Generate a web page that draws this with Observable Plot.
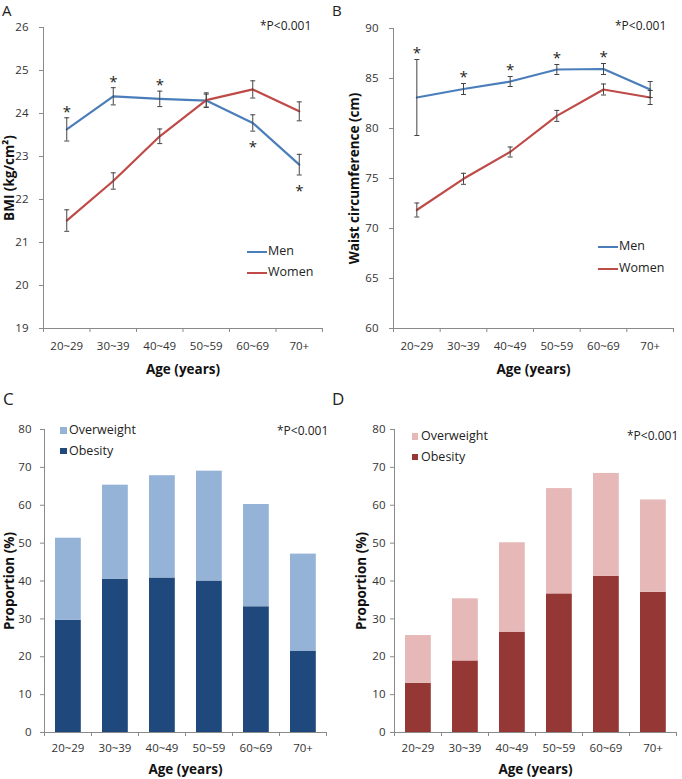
<!DOCTYPE html>
<html><head><meta charset="utf-8">
<script src="https://cdn.jsdelivr.net/npm/d3@7"></script>
<script src="https://cdn.jsdelivr.net/npm/@observablehq/plot@0.6"></script>
<style>
body{margin:0;background:#fff;font-family:"Open Sans",sans-serif;}
#fig{position:relative;width:682px;height:779px;overflow:hidden;background:#fff;}
.p{position:absolute;}
.t{position:absolute;white-space:nowrap;color:#222;line-height:1;transform:translateY(-50%);font-family:"Open Sans",sans-serif;}
.sw{position:absolute;}
g[aria-label="x-axis label"] text, g[aria-label="y-axis label"] text{font-weight:bold;font-size:13.5px;fill:#111;}
</style></head><body><div id="fig"></div><script>
// ---- data ----
const ageGroups = ["20~29","30~39","40~49","50~59","60~69","70+"];
const bmiMen = [23.63,24.40,24.34,24.30,23.78,22.81];
const bmiMenErr = [0.27,0.20,0.18,0.15,0.19,0.24];
const bmiWomen = [21.51,22.43,23.47,24.31,24.56,24.05];
const bmiWomenErr = [0.25,0.19,0.17,0.17,0.20,0.22];
const bmiStars = ["above","above","above",null,"below","below"];
const waistMen = [83.1,83.95,84.7,85.9,85.95,83.9];
const waistMenErr = [3.8,0.55,0.5,0.5,0.55,0.8];
const waistWomen = [71.85,74.97,77.65,81.26,83.9,83.1];
const waistWomenErr = [0.7,0.55,0.5,0.55,0.55,0.7];
const waistStars = ["above","above","above","above","above",null];
const menObesity = [29.6,40.5,40.8,40.0,33.2,21.5];
const menOverweight = [21.7,24.8,27.0,29.0,27.0,25.6];
const womenObesity = [13.0,18.9,26.5,36.6,41.2,37.0];
const womenOverweight = [12.6,16.4,23.6,27.8,27.2,24.4];
const bmiTicks = [19,20,21,22,23,24,25,26];
const waistTicks = [60,65,70,75,80,85,90];
const propTicks = [0,10,20,30,40,50,60,70,80];
const seriesNames = ["Men","Women"];
const barNames = ["Overweight","Obesity"];
const pText = "*P<0.001";

// ---- style ----
const BLUE = "#4A7EBB", RED = "#BE4B48";
const LBLUE = "#95B3D7", DBLUE = "#1F497D";
const LRED = "#E6B9B8", DRED = "#953735";
const AX = "#8a8a8a", ERR = "#444";
const fig = document.getElementById("fig");
const capSymbol = {draw(ctx){ctx.moveTo(-2.5,0);ctx.lineTo(2.5,0);}};
const idx = ageGroups.map((_, i) => i);
const mid = d => d.i + 0.5;

function xAxes(tickPadding, labelOffset) {
  return [
    Plot.axisX(d3.range(0, ageGroups.length + 1), {tickSize: 4, tickFormat: () => "", stroke: AX, label: null}),
    Plot.axisX(idx.map(i => i + 0.5), {tickSize: 0, tickPadding, tickFormat: v => ageGroups[Math.floor(v)],
      label: "Age (years)", labelAnchor: "center", labelOffset, labelArrow: "none"})
  ];
}
function yAxis(ticks, label, tickPadding, labelOffset) {
  return Plot.axisY(ticks, {tickSize: 4, stroke: AX, tickPadding, label, labelAnchor: "center", labelOffset, labelArrow: "none"});
}
function place(svg, left, top) {
  svg.classList.add("p"); svg.style.left = left + "px"; svg.style.top = top + "px"; fig.appendChild(svg);
}
function txt(x, y, s, size, extra) {
  const d = document.createElement("div"); d.className = "t"; d.textContent = s;
  d.style.left = x + "px"; d.style.top = y + "px"; d.style.fontSize = size + "px";
  if (extra) Object.assign(d.style, extra);
  fig.appendChild(d);
}
function swatch(x, y, w, h, color) {
  const d = document.createElement("div"); d.className = "sw";
  Object.assign(d.style, {left: x + "px", top: (y - h / 2) + "px", width: w + "px", height: h + "px", background: color});
  fig.appendChild(d);
}
const baseStyle = {fontFamily: "Open Sans", fontSize: "11.5px", color: "#333", background: "transparent", overflow: "visible"};

function linePanel({men, menErr, women, womenErr, stars, ticks, label, m, tickPad, labelOff}) {
  const rows = idx.map(i => ({i, men: men[i], menErr: menErr[i], women: women[i], womenErr: womenErr[i], star: stars[i]}));
  const ser = [["men", "menErr", BLUE], ["women", "womenErr", RED]];
  const marks = [
    Plot.ruleX([0], {stroke: AX}),
    Plot.ruleY([ticks[0]], {stroke: AX}),
    yAxis(ticks, label, tickPad, labelOff),
    ...xAxes(13, 45)
  ];
  for (const [k, e, c] of ser) {
    marks.push(Plot.lineY(rows, {x: mid, y: k, stroke: c, strokeWidth: 2.2}));
  }
  for (const [k, e] of ser) {
    marks.push(Plot.ruleX(rows, {x: mid, y1: d => d[k] - d[e], y2: d => d[k] + d[e], stroke: ERR, strokeWidth: 1}));
    marks.push(Plot.dot(rows, {x: mid, y: d => d[k] - d[e], symbol: capSymbol, stroke: ERR, fill: "none", strokeWidth: 1}));
    marks.push(Plot.dot(rows, {x: mid, y: d => d[k] + d[e], symbol: capSymbol, stroke: ERR, fill: "none", strokeWidth: 1}));
  }
  marks.push(Plot.text(rows.filter(d => d.star === "above"), {x: mid, y: d => d.men + d.menErr, text: () => "*", dy: -6, fontSize: 15, fill: "#222"}));
  marks.push(Plot.text(rows.filter(d => d.star === "below"), {x: mid, y: d => d.men - d.menErr, text: () => "*", dy: 16, fontSize: 15, fill: "#222"}));
  return Plot.plot({
    width: 341, height: 385, ...m,
    x: {domain: [0, ageGroups.length], axis: null},
    y: {domain: [ticks[0], ticks[ticks.length - 1]], axis: null},
    style: baseStyle, marks
  });
}

function barPanel({obesity, overweight, cLight, cDark, m, tickPad, labelOff}) {
  const rows = idx.map(i => ({i, ob: obesity[i], ov: overweight[i]}));
  return Plot.plot({
    width: 341, height: 394, ...m,
    x: {domain: [0, ageGroups.length], axis: null},
    y: {domain: [0, 80], axis: null},
    style: baseStyle,
    marks: [
      Plot.rect(rows, {x1: d => d.i, x2: d => d.i + 1, y1: () => 0, y2: "ob", fill: cDark, insetLeft: 11, insetRight: 10.2}),
      Plot.rect(rows, {x1: d => d.i, x2: d => d.i + 1, y1: "ob", y2: d => d.ob + d.ov, fill: cLight, insetLeft: 11, insetRight: 10.2}),
      Plot.ruleX([0], {stroke: AX}),
      Plot.ruleY([0], {stroke: AX}),
      yAxis(propTicks, "Proportion (%)", tickPad, labelOff),
      ...xAxes(11, 41)
    ]
  });
}

place(linePanel({men: bmiMen, menErr: bmiMenErr, women: bmiWomen, womenErr: bmiWomenErr, stars: bmiStars,
  ticks: bmiTicks, label: "BMI (kg/cm²)", m: {marginLeft: 43, marginRight: 19, marginTop: 27, marginBottom: 57}, tickPad: 11, labelOff: 39}), 0, 0);
place(linePanel({men: waistMen, menErr: waistMenErr, women: waistWomen, womenErr: waistWomenErr, stars: waistStars,
  ticks: waistTicks, label: "Waist circumference (cm)", m: {marginLeft: 52, marginRight: 9, marginTop: 28, marginBottom: 57}, tickPad: 11, labelOff: 44}), 341, 0);
place(barPanel({obesity: menObesity, overweight: menOverweight, cLight: LBLUE, cDark: DBLUE,
  m: {marginLeft: 44, marginRight: 15, marginTop: 44, marginBottom: 47}, tickPad: 9, labelOff: 40}), 0, 385);
place(barPanel({obesity: womenObesity, overweight: womenOverweight, cLight: LRED, cDark: DRED,
  m: {marginLeft: 53, marginRight: 6, marginTop: 44, marginBottom: 47}, tickPad: 5, labelOff: 38}), 341, 385);

// panel letters
txt(2, 10, "A", 15); txt(332, 10, "B", 15);
txt(3, 398, "C", 17); txt(332, 398, "D", 17);
// p-values
txt(260, 26, pText, 12); txt(615, 26, pText, 12);
txt(277, 431, pText, 12); txt(627, 436, pText, 12);
// line legends
swatch(247, 252, 20, 2, BLUE); txt(268, 251, seriesNames[0], 12.5);
swatch(247, 273, 20, 2, RED); txt(268, 272, seriesNames[1], 12.5);
swatch(598, 247, 20, 2, BLUE); txt(619, 246, seriesNames[0], 12.5);
swatch(598, 269, 20, 2, RED); txt(619, 268, seriesNames[1], 12.5);
// bar legends
swatch(60, 430.5, 6.7, 6.7, LBLUE); txt(69, 430, barNames[0], 12.5);
swatch(60, 451, 6.7, 6.7, DBLUE); txt(69, 450.5, barNames[1], 12.5);
swatch(411.7, 436.5, 6.7, 6.7, LRED); txt(421, 436, barNames[0], 12.5);
swatch(411.7, 457, 6.7, 6.7, DRED); txt(421, 456.5, barNames[1], 12.5);
</script></body></html>
